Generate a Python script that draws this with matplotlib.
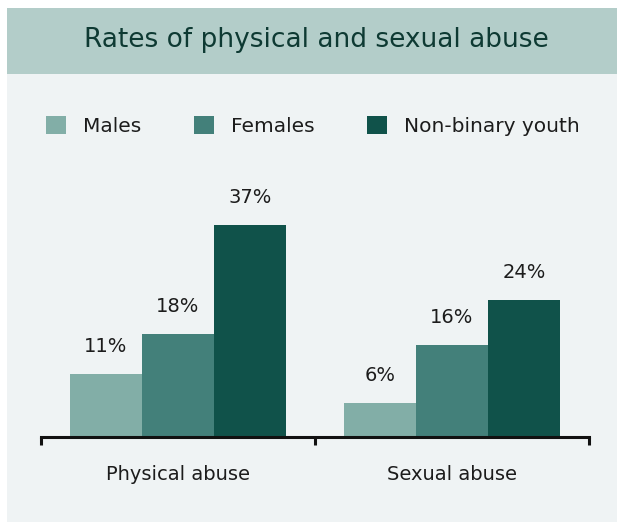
import numpy as np
import matplotlib
matplotlib.use("Agg")
import matplotlib.pyplot as plt
from matplotlib.patches import Rectangle

plt.rcParams['font.family'] = ['DejaVu Sans']

# data
categories = ["Physical abuse", "Sexual abuse"]
groups = ["Males", "Females", "Non-binary youth"]
males = [11, 6]
females = [18, 16]
nonbinary = [37, 24]

colors = ["#82aea7", "#43807a", "#10524a"]
band_col = "#b3cdc9"
panel_col = "#eff3f4"
text_col = "#1c1c1c"

fig = plt.figure(figsize=(6.17, 5.23), dpi=100)
fig.patch.set_facecolor("white")

# panel background and title band
fig.patches.append(Rectangle((7/617, 1/523), 610/617, 448/523, transform=fig.transFigure,
                             facecolor=panel_col, edgecolor="none", zorder=-5))
fig.patches.append(Rectangle((7/617, 449/523), 610/617, 66/523, transform=fig.transFigure,
                             facecolor=band_col, edgecolor="none", zorder=-5))
fig.text(316/617, 1 - 40/523, "Rates of physical and sexual abuse", ha="center", va="center",
         fontsize=19, color="#0e3a33")

ax = fig.add_axes([41/617, 86/523, 548/617, 229/523])
ax.set_facecolor("none")

x = np.arange(len(categories))
w = 0.2628
series = [males, females, nonbinary]
bars = []
for i, (vals, col, name) in enumerate(zip(series, colors, groups)):
    b = ax.bar(x + (i - 1) * w, vals, width=w, color=col, label=name, zorder=2)
    bars.append(b)
    for xi, v in zip(x + (i - 1) * w, vals):
        ax.annotate(f"{v}%", (xi, v), xytext=(0, 13), textcoords="offset points",
                    ha="center", va="bottom", fontsize=14, color=text_col)

ax.set_xlim(-0.5, 1.5)
ax.set_ylim(0, 40)

for s in ["top", "right", "left"]:
    ax.spines[s].set_visible(False)
ax.spines["bottom"].set_linewidth(2.2)
ax.spines["bottom"].set_color("#111111")
ax.set_yticks([])

ax.set_xticks([-0.5, 0.5, 1.5])
ax.set_xticklabels([])
ax.tick_params(axis="x", which="major", length=6, width=2.2, color="#111111", direction="out")
ax.set_xticks(x, minor=True)
ax.set_xticklabels(categories, minor=True)
ax.tick_params(axis="x", which="minor", length=0, pad=20, labelsize=14, labelcolor=text_col)

leg = fig.legend(handles=bars, labels=groups, loc="center", bbox_to_anchor=(313/617, 1 - 126/523),
                 ncol=3, frameon=False, fontsize=14.5, handlelength=1.0, handleheight=1.0,
                 handletextpad=0.85, columnspacing=2.6, labelcolor=text_col)

fig.savefig("out.png", dpi=100, facecolor=fig.get_facecolor())
